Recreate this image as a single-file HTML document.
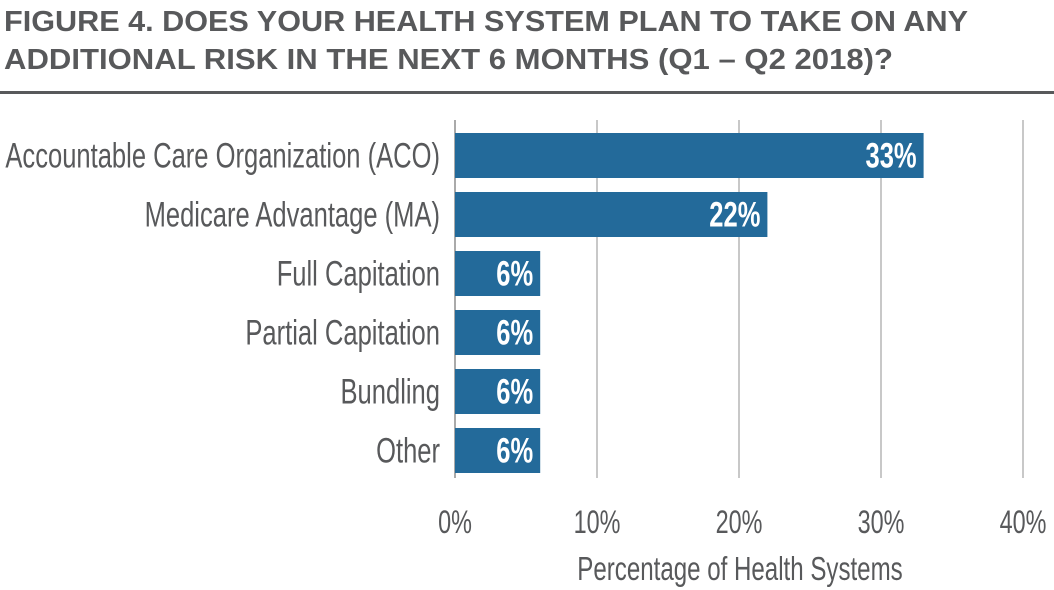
<!DOCTYPE html>
<html><head><meta charset="utf-8"><style>
body{margin:0;background:#fff;width:1054px;height:590px;overflow:hidden}
svg{display:block}
.t{font-family:"Liberation Sans",sans-serif;font-weight:bold;font-size:29px;fill:#58595b}
.n{font-family:"Liberation Sans",sans-serif;fill:#58595b}
</style></head><body>
<svg id="c" width="1054" height="590">
<text class="t" x="4" y="31" textLength="964" lengthAdjust="spacingAndGlyphs">FIGURE 4. DOES YOUR HEALTH SYSTEM PLAN TO TAKE ON ANY</text>
<text class="t" x="4" y="69" textLength="889" lengthAdjust="spacingAndGlyphs">ADDITIONAL RISK IN THE NEXT 6 MONTHS (Q1 – Q2 2018)?</text>
<rect x="0" y="91" width="1054" height="3" fill="#58595b"/>
<g id="grid"></g><g id="bars"></g>
<text class="n sq" x="740" y="580" text-anchor="middle" font-size="33">Percentage of Health Systems</text>
</svg>
<script>
const categories=["Accountable Care Organization (ACO)","Medicare Advantage (MA)","Full Capitation","Partial Capitation","Bundling","Other"];
const values=[33,22,6,6,6,6];
const ticks=[0,10,20,30,40];
const tickLabels=["0%","10%","20%","30%","40%"];
const NS="http://www.w3.org/2000/svg";
const x0=455,pxPer=14.2,top0=126,band=59,bh=45;
const xs=v=>x0+v*pxPer;
const ys=i=>top0+i*band;
const grid=document.getElementById('grid'),bars=document.getElementById('bars');
function mk(tag,attrs,parent){const e=document.createElementNS(NS,tag);for(const k in attrs)e.setAttribute(k,attrs[k]);parent.appendChild(e);return e;}
ticks.forEach((t,i)=>{
 const l=mk('line',{x1:xs(t),x2:xs(t),y1:120,y2:478,stroke:i==0?'#aaa':'#c8c8c8','stroke-width':2},grid);
 
 
 const tx=mk('text',{x:xs(t),y:533,'text-anchor':'middle','font-size':32,class:'n sq'},grid);
 tx.textContent=tickLabels[i];
 
 
});
categories.forEach((c,i)=>{
 const y=ys(i)+(band-bh)/2;
 const r=mk('rect',{x:x0,y:y,width:xs(values[i])-x0,height:bh,fill:'#236a9a'},bars);
 
 
 const lb=mk('text',{x:440,y:y+bh/2+12,'text-anchor':'end','font-size':35,class:'n sq'},bars);
 lb.textContent=c;
 
 
 const v=mk('text',{x:xs(values[i])-7,y:y+bh/2+12,'text-anchor':'end','font-size':35,'font-weight':'bold',fill:'#fff',class:'sq','font-family':'"Liberation Sans",sans-serif'},bars);
 v.textContent=values[i]+'%';
 
 
});
document.querySelectorAll('.sq').forEach(t=>{
 const w=t.getComputedTextLength();
 t.setAttribute('textLength',(w*0.73).toFixed(1));
 t.setAttribute('lengthAdjust','spacingAndGlyphs');
});
</script>
</body></html>
